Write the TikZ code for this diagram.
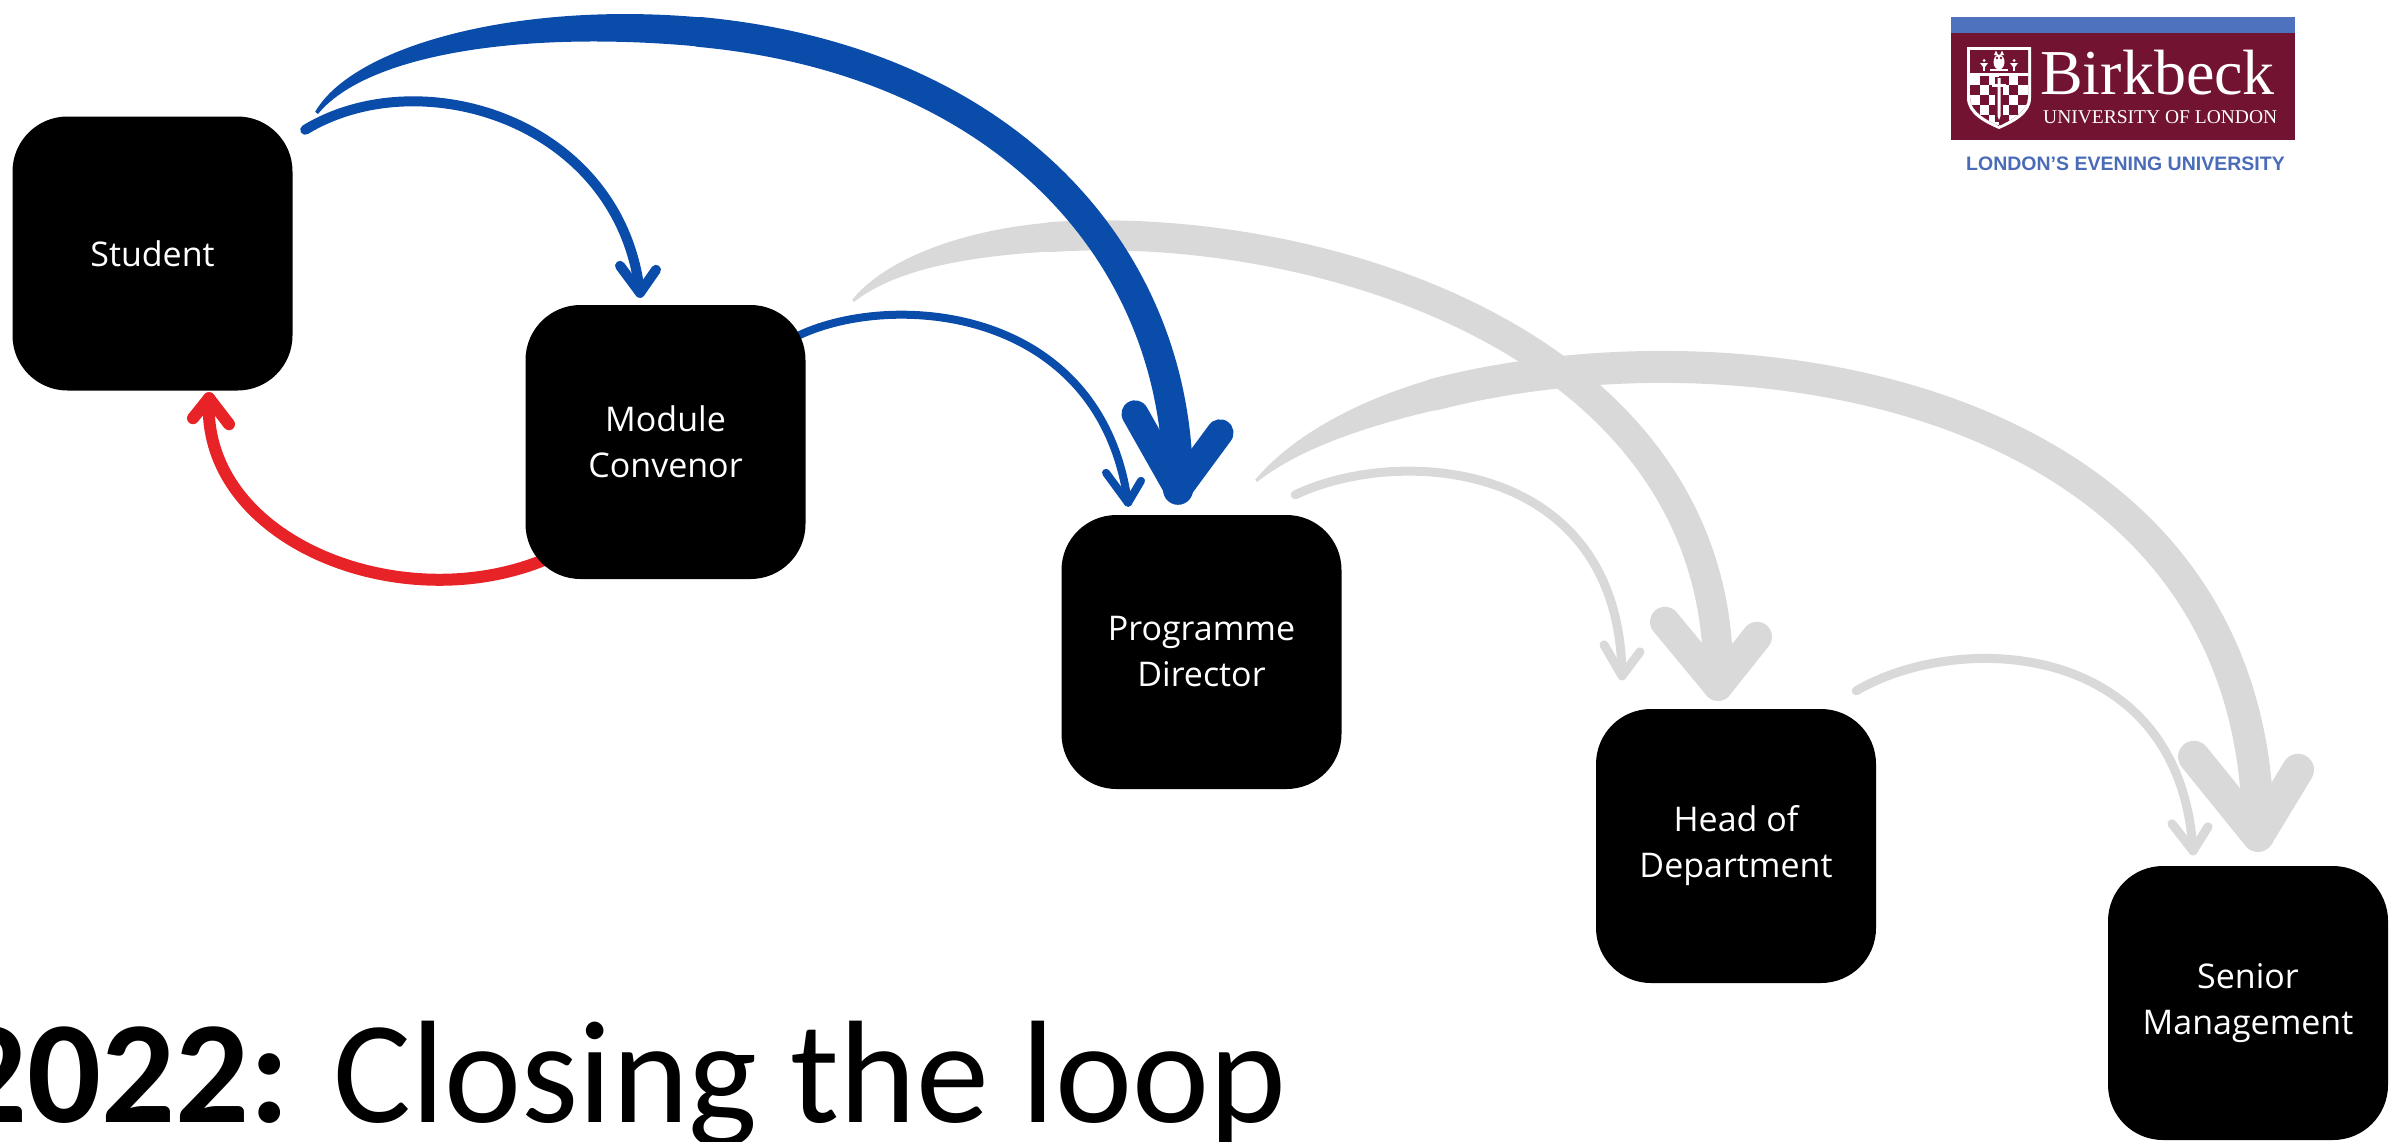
\documentclass[tikz,border=0pt]{standalone}
\usepackage{fontspec}
\setmainfont{Open Sans}
\newfontfamily\titlefont{Carlito}
\newfontfamily\logoserif{Liberation Serif}
\newfontfamily\logosans{Liberation Sans}
\usetikzlibrary{calc}
\pgfdeclarelayer{bg}
\pgfsetlayers{bg,main}
\definecolor{bkblue}{RGB}{10,76,170}
\definecolor{bkred}{RGB}{232,35,40}
\definecolor{bkgrey}{RGB}{217,217,217}
\definecolor{bkmaroon}{RGB}{114,19,50}
\definecolor{logobar}{RGB}{78,114,190}
\definecolor{logotext}{RGB}{74,108,184}
\begin{document}
\begin{tikzpicture}[x=1pt,y=-1pt,
  box/.style={fill=black, rounded corners=55pt, minimum width=280pt, minimum height=274pt,
    inner sep=0pt, text=white, align=center, font=\fontsize{34}{46}\selectfont},
  brush/.style={line cap=round, line join=round},
  bluearrow/.style={brush, draw=bkblue},
  greyarrow/.style={brush, draw=bkgrey},
  redarrow/.style={brush, draw=bkred}]
\useasboundingbox (0,0) rectangle (2389,1141);
\clip (0,0) rectangle (2389,1141);

% ---------- boxes ----------
\node[box] (student) at (152.5,253.5) {Student};
\node[box] (mc) at (665.5,442) {Module\\Convenor};
\node[box] (pd) at (1201.5,652) {Programme\\Director};
\node[box] (hod) at (1736,846) {Head of\\Department};
\node[box] (sm) at (2248,1003) {Senior\\Management};

% ---------- connector end points ----------
\coordinate (b1s) at ($(student.north east)+(12.5,13.5)$);
\coordinate (b1t) at ($(mc.north)+(-25.5,-12)$);
\coordinate (b2s) at ($(student.north east)+(22.5,-4.5)$);
\coordinate (b2t) at ($(pd.north)+(-23.5,-25)$);
\coordinate (b3s) at ($(mc.north east)+(-15.5,35)$);
\coordinate (b3t) at ($(pd.north)+(-73.5,-12)$);
\coordinate (rs) at ($(mc.south west)+(20.5,-20)$);
\coordinate (rt) at ($(student.south)+(56.5,7.5)$);
\coordinate (g1s) at ($(mc.north east)+(46.5,-5)$);
\coordinate (g1t) at ($(hod.north)+(-18,-23)$);
\coordinate (g2s) at ($(pd.north east)+(-86.5,-35)$);
\coordinate (g2t) at ($(sm.north)+(10,-30)$);
\coordinate (g3s) at ($(pd.north east)+(-46.5,-20)$);
\coordinate (g3t) at ($(hod.north)+(-114,-33)$);
\coordinate (g4s) at ($(hod.north east)+(-20,-18)$);
\coordinate (g4t) at ($(sm.north)+(-55,-15)$);

\begin{pgfonlayer}{bg}
% ---------- grey arrows ----------
% Module Convenor -> Head of Department
\fill[bkgrey] (g1s) .. controls (884,260) and (960,230) .. (1050.5,222.5)
   -- (1052.5,251.5) .. controls (966,256) and (894,270) .. (854,302) -- cycle;
\draw[greyarrow, line width=30pt] (1051.5,237) .. controls (1318.6,219.1) and (1727,344) .. (g1t);
\draw[greyarrow, line width=30pt] (g1t) ++(-53,-64) -- (g1t) -- ++(39,-49);
% Programme Director -> Senior Management
\fill[bkgrey] (g2s) .. controls (1289,439) and (1352,402) .. (1430.5,379.5)
   -- (1437.5,409.5) .. controls (1363,427) and (1299,449) .. (1257,482) -- cycle;
\draw[greyarrow, line width=32pt] (1434.4,394.5) .. controls (1741.5,315) and (2259.6,391.2) .. (g2t);
\draw[greyarrow, line width=32pt] (g2t) ++(-64,-79) -- (g2t) -- ++(40,-66);
% Programme Director -> Head of Department
\draw[greyarrow, line width=9pt] (g3s) .. controls (1400,445) and (1620,460) .. (g3t);
\draw[greyarrow, line width=9pt] (g3t) ++(-18,-31) -- (g3t) -- ++(18,-24);
% Head of Department -> Senior Management
\draw[greyarrow, line width=9pt] (g4s) .. controls (1960,630) and (2180,640) .. (g4t);
\draw[greyarrow, line width=9pt] (g4t) ++(-21,-27) -- (g4t) -- ++(15,-24);

% ---------- blue arrows ----------
% Student -> Programme Director (thick)
\fill[bkblue] (b2s) .. controls (353.5,45.3) and (519,1) .. (701.5,17.5)
   -- (698.5,46.5) .. controls (521,30) and (366.5,54.7) .. (318,114) -- cycle;
\draw[bluearrow, line width=30pt] (700,32) .. controls (1000,60) and (1180,250) .. (b2t);
\draw[bluearrow, line width=27pt] (b2t) ++(-43,-76) -- (b2t) -- ++(42,-57);
% Student -> Module Convenor
\draw[bluearrow, line width=10pt] (b1s) .. controls (420,60) and (620,120) .. (b1t);
\draw[bluearrow, line width=10pt] (b1t) ++(-20,-27) -- (b1t) -- ++(16,-23);
% Module Convenor -> Programme Director
\draw[bluearrow, line width=8pt] (b3s) .. controls (880,290) and (1100,300) .. (b3t);
\draw[bluearrow, line width=8pt] (b3t) ++(-22,-30) -- (b3t) -- ++(13,-22);

% ---------- red arrow ----------
\draw[redarrow, line width=12pt] (rs) .. controls (400,620) and (200,540) .. (rt);
\draw[redarrow, line width=12pt] (rt) ++(-16,20) -- (rt) -- ++(20,26);
\end{pgfonlayer}

% ---------- title ----------
\node[anchor=base west, inner sep=0pt, font=\titlefont\fontsize{146}{146}\selectfont] (title)
  at (-47,1122) {\textbf{2022:} Closing the loop};

% ---------- logo ----------
\fill[logobar] (1951,17) rectangle (2295,33);
\fill[bkmaroon] (1951,33) rectangle (2295,140);
\fill[white] (1967,47) -- (2031,47) -- (2031,98) .. controls (2031,114) and (2013,123) .. (1999,129)
  .. controls (1985,123) and (1967,114) .. (1967,98) -- cycle;
\fill[bkmaroon] (1970,50) -- (2028,50) -- (2028,97) .. controls (2028,112) and (2011,120) .. (1999,126)
  .. controls (1987,120) and (1970,112) .. (1970,97) -- cycle;
\begin{scope}
  \clip (1970,75) -- (2028,75) -- (2028,97) .. controls (2028,112) and (2011,120) .. (1999,126)
  .. controls (1987,120) and (1970,112) .. (1970,97) -- cycle;
  \foreach \i in {0,...,5} {
    \foreach \j in {0,...,5} {
      \pgfmathtruncatemacro{\k}{mod(\i+\j,2)}
      \ifnum\k=0
        \fill[white] ({1970+\i*9.67},{75+\j*10}) rectangle ++(9.67,10);
      \fi
    }
  }
\end{scope}
\fill[white] (1970,73) rectangle (2028,75.5);
\fill[bkmaroon] (1995,77) rectangle (2003,122);
\fill[white] (1997.5,78) -- (2000.5,78) -- (2000.5,116) -- (1999,120) -- (1997.5,116) -- cycle;
\fill[white] (1992,84) rectangle (2006,86.5);
\fill[white] (1999,62) ellipse (5.5 and 7.5);
\fill[bkmaroon] (1997,58) circle (1.3) (2001,58) circle (1.3);
\fill[white] (1994,55) -- (1996,50.5) -- (1998,55) -- cycle;
\fill[white] (2000,55) -- (2002,50.5) -- (2004,55) -- cycle;
\fill[white] (1990,69) rectangle (2008,70.5);
\fill[white] (1980,63) -- (1988,63) -- (1985,67) -- (1983,67) -- cycle;
\fill[white] (1983.3,67) rectangle (1984.7,71);
\fill[white] (1984,60.5) circle (1.5);
\fill[white] (2010,63) -- (2018,63) -- (2015,67) -- (2013,67) -- cycle;
\fill[white] (2013.3,67) rectangle (2014.7,71);
\fill[white] (2014,60.5) circle (1.5);
\node[anchor=base west, inner sep=0pt, text=white, font=\logoserif\fontsize{64}{64}\selectfont] (bk)
  at (2040,94) {Birkbeck};
\node[anchor=base west, inner sep=0pt, text=white, font=\logoserif\fontsize{19.5}{20}\selectfont] (uol)
  at (2043,123) {UNIVERSITY OF LONDON};
\node[anchor=base west, inner sep=0pt, text=logotext, font=\logosans\bfseries\fontsize{19.5}{20}\selectfont] (leu)
  at (1966,170) {LONDON’S EVENING UNIVERSITY};
\end{tikzpicture}
\end{document}
